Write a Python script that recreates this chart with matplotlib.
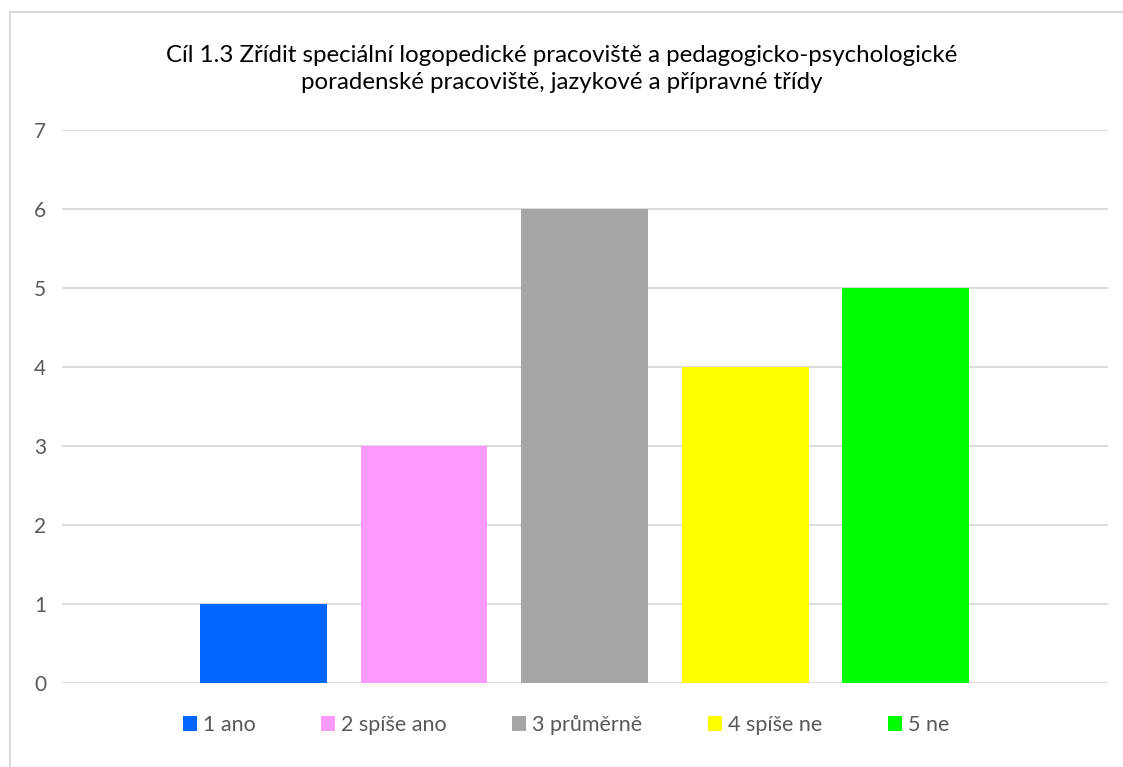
import matplotlib.pyplot as plt
from matplotlib.lines import Line2D
from matplotlib.patches import Patch

# data
categories = ['1 ano', '2 spíše ano', '3 průměrně', '4 spíše ne', '5 ne']
values = [1, 3, 6, 4, 5]
colors = ['#0066FF', '#FF99FF', '#A6A6A6', '#FFFF00', '#00FF00']
title = 'Cíl 1.3 Zřídit speciální logopedické pracoviště a pedagogicko-psychologické\nporadenské pracoviště, jazykové a přípravné třídy'

W, H = 1123, 767
fig = plt.figure(figsize=(W / 100, H / 100), dpi=100)

# plot area in pixels: x 62..1108, y 130..683
ax = fig.add_axes([62 / W, 1 - 683 / H, (1108 - 62) / W, (683 - 130) / H])

pos = list(range(len(values)))
ax.bar(pos, values, width=0.79, color=colors, zorder=3)
ax.set_xlim(-1.255, len(values) - 1 + 1.26)
ax.set_ylim(0, 7)
ax.set_yticks(range(0, 8))
ax.yaxis.grid(True, color='#D9D9D9', linewidth=1.3, zorder=0)
ax.set_xticks([])
for s in ax.spines.values():
    s.set_visible(False)
ax.tick_params(axis='y', length=0, pad=11.5, labelsize=15, labelcolor='#595959')
for lab in ax.get_yticklabels():
    lab.set_fontfamily('Lato')

fig.text(0.5, 1 - 69 / H, title, ha='center', va='center', fontsize=17.3,
         fontfamily=['Lato', 'DejaVu Sans'], color='#000000',
         linespacing=1.3)

handles = [Patch(facecolor=c, edgecolor='none') for c in colors]
leg = fig.legend(handles, categories, loc='center', bbox_to_anchor=(566 / W, 1 - 725 / H),
                 ncol=5, frameon=False, handlelength=0.65, handleheight=0.65,
                 handletextpad=0.28, columnspacing=3.05,
                 prop={'family': ['Lato', 'DejaVu Sans'], 'size': 15.5})
for t in leg.get_texts():
    t.set_color('#595959')

# chart border (top and left edges visible)
fig.add_artist(Line2D([10 / W, 1], [1 - 12 / H, 1 - 12 / H], color='#D9D9D9', linewidth=1.5))
fig.add_artist(Line2D([10 / W, 10 / W], [0, 1 - 12 / H], color='#D9D9D9', linewidth=1.5))

fig.savefig('out.png', dpi=100)
